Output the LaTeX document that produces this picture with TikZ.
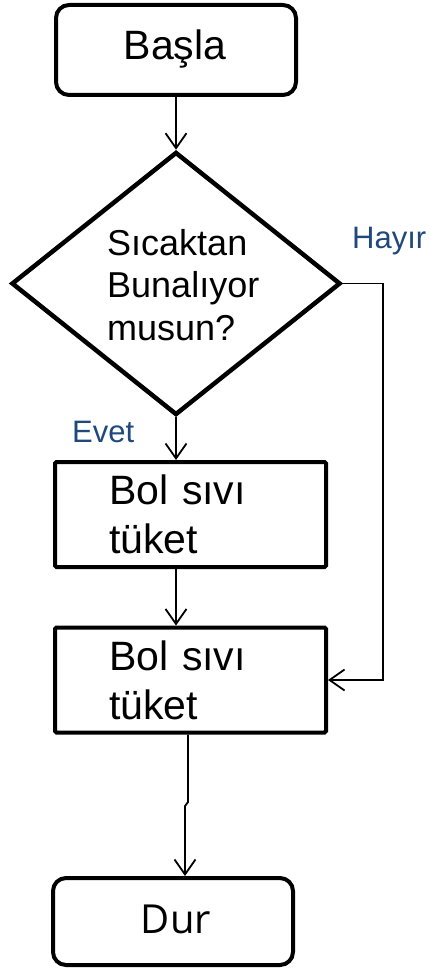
\documentclass[tikz,border=0pt]{standalone}
\usepackage{fontspec}
\setmainfont{Liberation Sans}
\newfontfamily\durfont{Open Sans}
\usetikzlibrary{shapes.geometric,arrows.meta}
\definecolor{lblue}{HTML}{1F497D}
\begin{document}
\begin{tikzpicture}[x=1pt,y=-1pt,
  termbox/.style={draw,line width=4pt,rounded corners=13pt,minimum width=240pt,inner sep=0pt},
  procbox/.style={draw,line width=4pt,rounded corners=1.5pt,minimum width=271pt,minimum height=105pt,inner sep=0pt},
  decbox/.style={draw,diamond,line width=4.5pt,minimum width=329pt,minimum height=263pt,inner sep=0pt},
  conn/.style={line width=1.8pt,-{Straight Barb[length=15pt,width=21pt]}},
  plain/.style={line width=1.8pt},
  lbl/.style={text=lblue,font=\fontsize{31}{37}\selectfont,anchor=base west,inner sep=0pt},
  boxtext/.style={anchor=base west,inner sep=0pt,text width=170pt,align=left,font=\fontsize{41}{49}\selectfont},
  termtext/.style={anchor=base,inner sep=0pt}]
\useasboundingbox (0,0) rectangle (430,968);
\fill[white] (0,0) rectangle (430,968);

% terminals
\node[termbox,minimum height=90pt] (start) at (176,50) {};
\node[termtext,font=\fontsize{41}{49}\selectfont] (starttxt) at (175,60) {Başla};

\node[termbox,minimum height=87pt] (stop) at (173,921.5) {};
\node[termtext,font=\durfont\fontsize{40}{48}\selectfont] (stoptxt) at (176,933) {Dur};

% decision
\node[decbox] (d) at (176,283.5) {};
\node[anchor=base west,inner sep=0pt,text width=170pt,align=left,font=\fontsize{36}{42.5}\selectfont] (dtxt) at (107,255) {Sıcaktan\\Bunalıyor\\musun?};

% process boxes
\node[procbox] (b1) at (190.5,514.5) {};
\node[boxtext] (b1txt) at (109,504) {Bol sıvı\\tüket};
\node[procbox] (b2) at (190.5,680) {};
\node[boxtext] (b2txt) at (109,670) {Bol sıvı\\tüket};

% labels
\node[lbl] (hayir) at (352,248) {Hayır};
\node[lbl] (evet) at (72,442) {Evet};

% connectors
\coordinate (hc) at (383,680);
\coordinate (j1) at (188,802);
\coordinate (j2) at (185,806);

\draw[conn] (start.south) -- (d.north);
\draw[conn] (d.south) -- (d.south |- b1.north);
\draw[conn] (b1.south -| d.south) -- (b2.north -| d.south);
\draw[conn] (d.east) -| (hc) -- (b2.east);
\draw[conn] (b2.south -| j1) -- (j1) -- (j2) -- (stop.north -| j2);
\end{tikzpicture}
\end{document}
